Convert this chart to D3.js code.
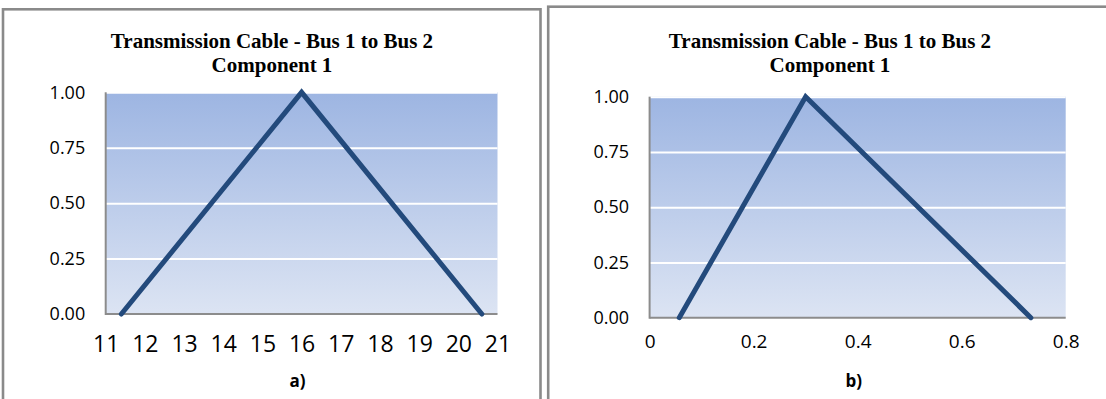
<!DOCTYPE html>
<html>
<head>
<meta charset="utf-8">
<script src="https://cdn.jsdelivr.net/npm/d3@7"></script>
<style>
  html, body { margin: 0; padding: 0; background: #fff; }
  svg { display: block; }
</style>
</head>
<body>
<svg id="chart" width="1106" height="399"></svg>
<script>
// Membership function of the cable component, two parameterisations
const titleLines = ["Transmission Cable - Bus 1 to Bus 2", "Component 1"];
const yTicks = [0, 0.25, 0.5, 0.75, 1];

// a) in the first unit
const xA = [11.4, 16, 20.6];
const yA = [0, 1, 0];
const xTicksA = [11, 12, 13, 14, 15, 16, 17, 18, 19, 20, 21];
const labelA = "a)";

// b) normalised
const xB = [0.057, 0.3, 0.733];
const yB = [0, 1, 0];
const xTicksB = [0, 0.2, 0.4, 0.6, 0.8];
const labelB = "b)";

const svg = d3.select("#chart");
const defs = svg.append("defs");
const grad = defs.append("linearGradient")
  .attr("id", "plotFill").attr("x1", 0).attr("y1", 0).attr("x2", 0).attr("y2", 1);
grad.append("stop").attr("offset", "0%").attr("stop-color", "#9db5e2");
grad.append("stop").attr("offset", "100%").attr("stop-color", "#dce4f3");

function panel(cfg) {
  const g = svg.append("g");
  // outer frame
  g.append("rect")
    .attr("x", cfg.frame[0]).attr("y", cfg.frame[1])
    .attr("width", cfg.frame[2]).attr("height", cfg.frame[3])
    .attr("fill", "#fff").attr("stroke", "#8a8a8a").attr("stroke-width", 2.6);

  const x = d3.scaleLinear().domain(cfg.xDomain).range([cfg.left, cfg.right]);
  const y = d3.scaleLinear().domain([0, 1]).range([cfg.bottom, cfg.top]);

  // title
  const t = g.append("text")
    .attr("x", cfg.titleX).attr("y", cfg.titleY)
    .attr("text-anchor", "middle")
    .attr("font-family", "'Liberation Serif', 'Times New Roman', serif")
    .attr("font-weight", "bold").attr("font-size", 21).attr("fill", "#000");
  titleLines.forEach((s, i) => {
    t.append("tspan").attr("x", cfg.titleX).attr("dy", i === 0 ? 0 : 23.4).text(s);
  });

  // plot area with gradient
  g.append("rect")
    .attr("x", x.range()[0]).attr("y", y(1))
    .attr("width", x.range()[1] - x.range()[0]).attr("height", y(0) - y(1))
    .attr("fill", "url(#plotFill)");

  // horizontal gridlines
  g.append("g")
    .attr("transform", `translate(${cfg.left},0)`)
    .call(d3.axisLeft(y).tickValues(yTicks.filter(v => v > 0))
      .tickSize(-(cfg.right - cfg.left)).tickFormat(""))
    .call(a => a.select(".domain").remove())
    .call(a => a.selectAll("line").attr("stroke", "#ffffff").attr("stroke-width", 2));

  // y axis labels
  g.append("g")
    .attr("transform", `translate(${cfg.left},0)`)
    .call(d3.axisLeft(y).tickValues(yTicks).tickSize(0).tickPadding(20.5)
      .tickFormat(d3.format(".2f")))
    .call(a => a.select(".domain").remove())
    .call(a => a.selectAll("text")
      .attr("font-family", "'Open Sans', sans-serif")
      .attr("font-size", 18).attr("fill", "#000"));

  // axis lines
  g.append("line")
    .attr("x1", cfg.left).attr("x2", cfg.left)
    .attr("y1", y(1)).attr("y2", y(0) + 1)
    .attr("stroke", "#8c8c8c").attr("stroke-width", 2);
  g.append("line")
    .attr("x1", cfg.left).attr("x2", cfg.right)
    .attr("y1", y(0)).attr("y2", y(0))
    .attr("stroke", "#8c8c8c").attr("stroke-width", 2);

  // x axis labels
  g.append("g")
    .attr("transform", `translate(0,${cfg.bottom})`)
    .call(d3.axisBottom(x).tickValues(cfg.xTicks).tickSize(0)
      .tickPadding(cfg.xPad).tickFormat(d => String(d)))
    .call(a => a.select(".domain").remove())
    .call(a => a.selectAll("text")
      .attr("font-family", "'Open Sans', sans-serif")
      .attr("font-size", cfg.xFont).attr("fill", "#000"));

  // axis caption
  g.append("text")
    .attr("x", (cfg.left + cfg.right) / 2 - 4).attr("y", 387)
    .attr("text-anchor", "middle")
    .attr("font-family", "'Open Sans', sans-serif")
    .attr("font-weight", "bold").attr("font-size", 17).attr("fill", "#000")
    .text(cfg.caption);

  // membership line
  const pts = cfg.xs.map((v, i) => [v, cfg.ys[i]]);
  g.append("path")
    .datum(pts)
    .attr("d", d3.line().x(d => x(d[0])).y(d => y(d[1])))
    .attr("fill", "none").attr("stroke", "#234a7c")
    .attr("stroke-width", 5).attr("stroke-linecap", "round")
    .attr("stroke-linejoin", "miter");
}

panel({
  frame: [3, 9.3, 537.5, 400],
  left: 105.7, right: 497.5, top: 92.3, bottom: 314,
  xDomain: [11, 21], xTicks: xTicksA, xFont: 23, xPad: 22,
  titleX: 272, titleY: 48.3,
  xs: xA, ys: yA, caption: labelA
});

panel({
  frame: [548.2, 6.7, 600, 400],
  left: 649.6, right: 1065.7, top: 96.7, bottom: 317.7,
  xDomain: [0, 0.8], xTicks: xTicksB, xFont: 19, xPad: 17,
  titleX: 830, titleY: 48.3,
  xs: xB, ys: yB, caption: labelB
});
</script>
</body>
</html>
